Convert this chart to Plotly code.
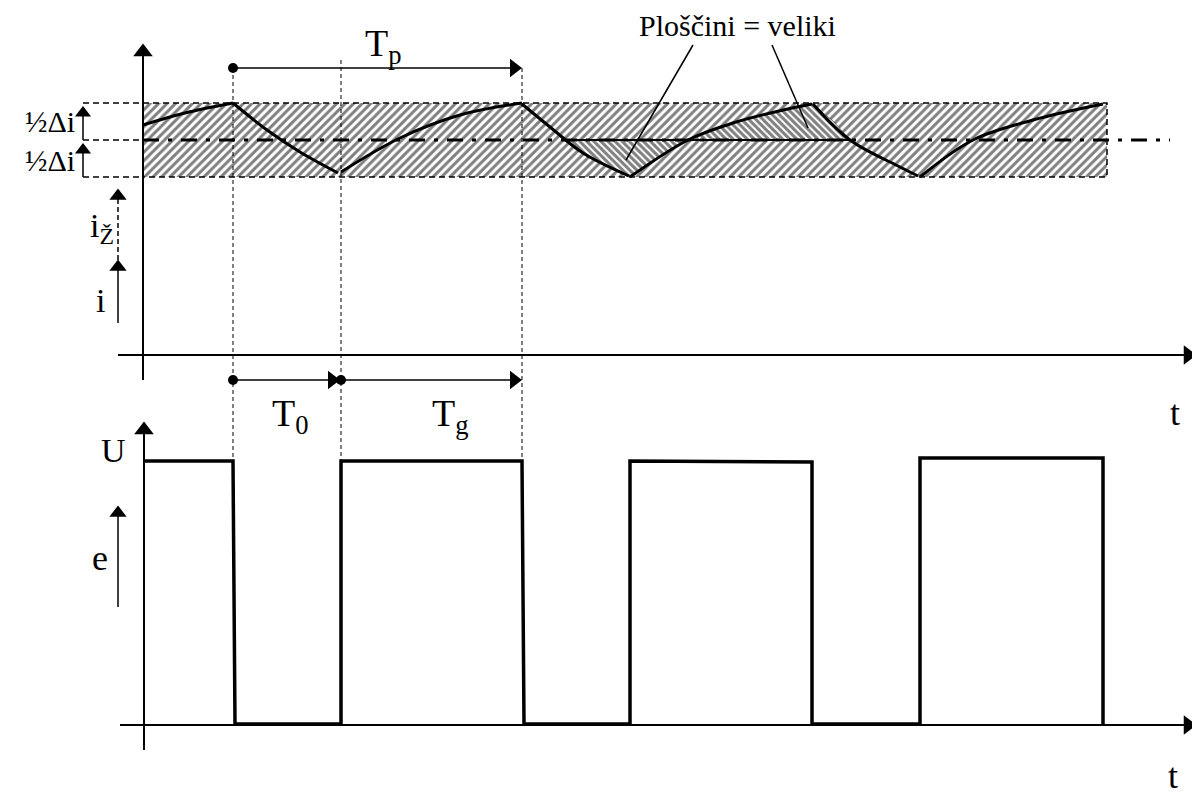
import plotly.graph_objects as go

# ---- diagram data (diagram units: horizontal = time position, vertical = level position) ----
T_ORIGIN = 143
T_SWITCH = [233, 341, 522, 630, 812, 920, 1103]      # switching instants
I_LEVELS = {"top": 103, "mid": 140, "bot": 177}       # i_Z + 1/2 di, i_Z, i_Z - 1/2 di
BAND_END = 1107
MID_END = 1170
U_HIGH = 461
U_ZERO = 724

# current waveform, segment by segment
cur_segments = [
    ([143, 185, 233], [125, 113, 103]),
    ([233, 267, 300, 338], [103, 130, 152, 173]),
    ([341, 400, 460, 522], [172, 138, 115, 103]),
    ([522, 550, 583, 629], [104, 127, 153, 176]),
    ([630, 688, 733, 783, 812], [177, 140, 123, 110, 104]),
    ([813, 850, 900, 918], [104, 140, 167, 176]),
    ([920, 973, 1033, 1103], [177, 140, 120, 104]),
]
# equal-area regions (outline points)
area_low = ([567, 583, 600, 615, 629, 645, 660, 675, 688, 567],
            [140, 153, 163, 170, 176, 166, 157, 148, 140, 140])
area_high = ([688, 710, 733, 758, 783, 800, 812, 822, 833, 842, 850, 688],
             [140, 130, 123, 116, 110, 107, 104, 112, 121, 131, 140, 140])
AREA_BASE = (567, 850)

# voltage waveform
u_x = [144, 233, 235, 341, 341, 522, 524, 630, 630, 812, 812, 920, 920, 1103, 1103]
u_y = [461, 461, 724, 724, 461, 461, 724, 724, 461, 462, 724, 724, 458, 458, 724]

FONT = "Liberation Serif, Times New Roman, serif"
fig = go.Figure()

def line(x, y, width=1.5, dash="solid", shape="linear"):
    fig.add_trace(go.Scatter(x=x, y=y, mode="lines", hoverinfo="skip",
                             line=dict(color="black", width=width, dash=dash, shape=shape)))

def marker(x, y, symbol, size):
    fig.add_trace(go.Scatter(x=x, y=y, mode="markers", hoverinfo="skip",
                             marker=dict(symbol=symbol, size=size, color="black", line=dict(width=0))))

# hatched tolerance band
top, mid, bot = I_LEVELS["top"], I_LEVELS["mid"], I_LEVELS["bot"]
fig.add_trace(go.Scatter(
    x=[T_ORIGIN, BAND_END, BAND_END, T_ORIGIN, T_ORIGIN], y=[top, top, bot, bot, top],
    mode="lines", fill="toself", hoverinfo="skip",
    fillcolor="white",
    fillpattern=dict(shape="/", size=6, solidity=0.5, fgcolor="black", bgcolor="white"),
    line=dict(color="black", width=1.5, dash="6px,4px")))

# equal areas (denser hatching)
for ax_, ay_ in (area_low, area_high):
    fig.add_trace(go.Scatter(
        x=ax_, y=ay_, mode="lines", fill="toself", hoverinfo="skip",
        fillpattern=dict(shape="\\", size=5, solidity=0.6, fgcolor="black", bgcolor="white"),
        line=dict(color="black", width=0.5)))

# left dashed extensions of band levels
for lv in (top, mid, bot):
    line([83, T_ORIGIN], [lv, lv], width=1.5, dash="6px,4px")
# mid (reference) line dash-dot
line([T_ORIGIN, MID_END], [mid, mid], width=3, dash="16px,9px,4px,9px")
line(list(AREA_BASE), [mid, mid], width=1.8)

# vertical thin dashed guides
line([T_SWITCH[0], T_SWITCH[0]], [68, U_HIGH], width=1, dash="4px,3px")
line([T_SWITCH[1], T_SWITCH[1]], [60, U_HIGH], width=1, dash="4px,3px")
line([T_SWITCH[2], T_SWITCH[2]], [68, U_HIGH], width=1, dash="4px,3px")

# current waveform
for sx, sy in cur_segments:
    line(sx, sy, width=3, shape="spline")

# leader lines
line([693, 626], [45, 160], width=1.5)
line([772, 808], [45, 128], width=1.5)

# axes: top
line([T_ORIGIN, T_ORIGIN], [380, 52], width=2)
marker([T_ORIGIN], [52], "triangle-up", 17)
line([118, 1185], [355, 355], width=2)
marker([1188], [355], "triangle-right", 17)
# axes: bottom
line([144, 144], [750, 430], width=2)
marker([144], [430], "triangle-up", 17)
line([120, 1185], [725, 725], width=2)
marker([1188], [725], "triangle-right", 17)

# voltage waveform
line(u_x, u_y, width=3.5)

# period arrows
line([T_SWITCH[0], T_SWITCH[2] - 8], [68, 68], width=1.5)
marker([T_SWITCH[2] - 8], [68], "triangle-right", 16)
marker([T_SWITCH[0]], [68], "circle", 10)
line([T_SWITCH[0], T_SWITCH[1] - 8], [380, 380], width=1.5)
marker([T_SWITCH[1] - 9], [380], "triangle-right", 16)
line([T_SWITCH[1], T_SWITCH[2] - 8], [380, 380], width=1.5)
marker([T_SWITCH[2] - 8], [380], "triangle-right", 16)
marker([T_SWITCH[0], T_SWITCH[1]], [380, 380], "circle", 10)

# half-delta arrows
line([83, 83], [140, 112], width=1.5)
marker([83], [113], "triangle-up", 14)
line([83, 83], [177, 150], width=1.5)
marker([83], [150], "triangle-up", 14)
# i_Z arrow (dashed)
line([118, 118], [268, 198], width=1.5, dash="5px,3px")
marker([118], [196], "triangle-up", 15)
# i arrow
line([118, 118], [323, 268], width=1.5)
marker([118], [267], "triangle-up", 15)
# e arrow
line([118, 118], [607, 514], width=1.5)
marker([118], [513], "triangle-up", 15)

# texts
def text(x, y, s, size, xanchor="center"):
    fig.add_annotation(x=x, y=y, text=s, showarrow=False, xanchor=xanchor, yanchor="middle",
                       font=dict(family=FONT, size=size, color="black"))

text(737, 25, "Ploščini = veliki", 30)
text(383, 46, "T<sub>p</sub>", 38)
text(290, 416, "T<sub>0</sub>", 38)
text(450, 416, "T<sub>g</sub>", 38)
text(77, 121, "½Δi", 30, xanchor="right")
text(77, 160, "½Δi", 30, xanchor="right")
text(102, 228, "i<sub>Ž</sub>", 34)
text(100, 300, "i", 34)
text(113, 450, "U", 34)
text(100, 558, "e", 36)
text(1175, 413, "t", 36)
text(1173, 776, "t", 36)

fig.update_layout(
    width=1200, height=796, margin=dict(l=0, r=0, t=0, b=0),
    paper_bgcolor="white", plot_bgcolor="white", showlegend=False,
    xaxis=dict(range=[8, 1208], visible=False, fixedrange=True),
    yaxis=dict(range=[804, 8], visible=False, fixedrange=True),
)
fig.write_html("out.html")
